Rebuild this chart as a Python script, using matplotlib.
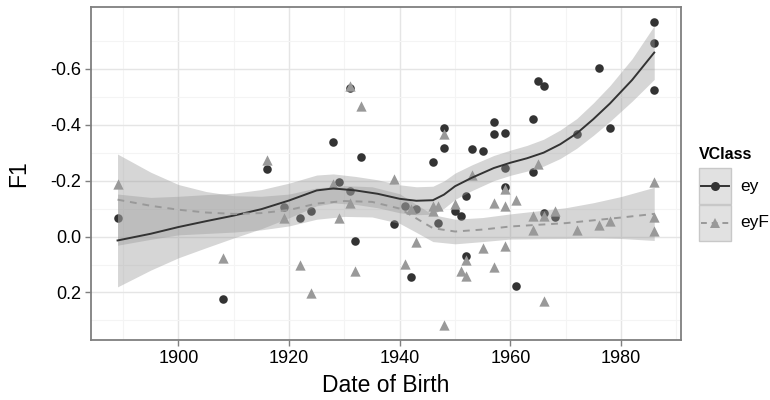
#!/usr/bin/env python3

import numpy as np
import matplotlib
matplotlib.use('Agg')
import matplotlib.pyplot as plt
from matplotlib.lines import Line2D
from matplotlib.patches import Rectangle

plt.rcParams['font.family'] = ['Liberation Sans', 'DejaVu Sans']

# observed points
ey_year = [1889, 1908, 1916, 1919, 1922, 1924, 1928, 1929, 1931, 1931, 1932, 1933,
           1939, 1941, 1942, 1943, 1946, 1947, 1948, 1948, 1950, 1951, 1952, 1952,
           1953, 1955, 1957, 1957, 1959, 1959, 1959, 1961, 1964, 1964, 1965, 1966,
           1966, 1968, 1972, 1976, 1978, 1986, 1986, 1986]
ey_f1 = [-0.067, 0.224, -0.240, -0.105, -0.066, -0.091, -0.339, -0.195, -0.530, -0.163, 0.016, -0.284,
         -0.045, -0.108, 0.145, -0.100, -0.267, -0.049, -0.389, -0.315, -0.090, -0.075, -0.145, 0.069,
         -0.312, -0.306, -0.408, -0.366, -0.371, -0.245, -0.177, 0.176, -0.420, -0.230, -0.557, -0.539,
         -0.085, -0.069, -0.365, -0.603, -0.389, -0.766, -0.694, -0.524]

eyf_year = [1889, 1908, 1916, 1919, 1922, 1924, 1928, 1929, 1931, 1931, 1932, 1933,
            1939, 1941, 1942, 1943, 1946, 1946, 1947, 1948, 1948, 1950, 1951, 1952,
            1952, 1953, 1955, 1957, 1957, 1959, 1959, 1959, 1961, 1964, 1964, 1965,
            1966, 1966, 1968, 1972, 1976, 1978, 1986, 1986, 1986]
eyf_f1 = [-0.189, 0.077, -0.273, -0.067, 0.100, 0.201, -0.187, -0.067, -0.539, -0.120, 0.122, -0.467,
          -0.207, 0.098, -0.100, 0.020, -0.111, -0.093, -0.108, -0.366, 0.316, -0.117, 0.122, 0.083,
          0.140, -0.219, 0.040, -0.120, 0.108, -0.170, -0.111, 0.035, -0.129, -0.075, -0.022, -0.259,
          -0.075, 0.230, -0.091, -0.022, -0.042, -0.055, -0.195, -0.069, -0.019]

# smoothed fits with half-width of the confidence band
ey_fit_year = [1889, 1895, 1900, 1905, 1910, 1915, 1920, 1925, 1928, 1932, 1936, 1940, 1943,
               1946, 1948, 1950, 1953, 1957, 1960, 1963, 1966, 1969, 1972, 1975, 1978, 1982, 1986]
ey_fit = [0.014, -0.010, -0.034, -0.055, -0.075, -0.098, -0.129, -0.165, -0.172, -0.165, -0.153,
          -0.135, -0.128, -0.130, -0.150, -0.180, -0.210, -0.245, -0.264, -0.280, -0.300, -0.330,
          -0.369, -0.420, -0.476, -0.560, -0.658]
ey_se = [0.166, 0.130, 0.110, 0.095, 0.080, 0.070, 0.062, 0.055, 0.052, 0.050, 0.050, 0.050, 0.050,
         0.050, 0.049, 0.047, 0.046, 0.045, 0.045, 0.046, 0.048, 0.051, 0.053, 0.058, 0.064, 0.076, 0.096]

eyf_fit_year = [1889, 1895, 1900, 1905, 1910, 1915, 1920, 1925, 1930, 1935, 1940, 1943, 1946,
                1950, 1955, 1960, 1965, 1970, 1975, 1980, 1986]
eyf_fit = [-0.132, -0.110, -0.096, -0.086, -0.081, -0.084, -0.095, -0.118, -0.127, -0.124, -0.100,
           -0.065, -0.030, -0.018, -0.025, -0.036, -0.042, -0.048, -0.058, -0.068, -0.081]
eyf_se = [0.163, 0.120, 0.090, 0.075, 0.065, 0.060, 0.057, 0.056, 0.055, 0.054, 0.053, 0.050, 0.048,
          0.044, 0.043, 0.045, 0.050, 0.055, 0.063, 0.075, 0.095]

dark = '#333333'
light = '#999999'

fig = plt.figure(figsize=(7.7, 4.0), dpi=100)
ax = fig.add_axes([0.1178, 0.1500, 0.8845 - 0.1178, 0.9818 - 0.1500])

# points first, then the bands on top, then the fitted lines
ax.scatter(ey_year, ey_f1, s=38, marker='o', color=dark, linewidths=0, zorder=2)
ax.scatter(eyf_year, eyf_f1, s=55, marker='^', color=light, linewidths=0, zorder=2)

for yr, fit, se in [(ey_fit_year, ey_fit, ey_se), (eyf_fit_year, eyf_fit, eyf_se)]:
    fit = np.array(fit)
    se = np.array(se)
    ax.fill_between(yr, fit - se, fit + se, color='#999999', alpha=0.4, linewidth=0, zorder=3)

ax.plot(ey_fit_year, ey_fit, color=dark, lw=1.4, zorder=4)
ax.plot(eyf_fit_year, eyf_fit, color=light, lw=1.4, dashes=(3.5, 3), zorder=4)

# axes, ggplot theme_bw look
ax.set_xlim(1884.15, 1990.85)
ax.set_ylim(0.370, -0.820)
ax.set_xticks([1900, 1920, 1940, 1960, 1980])
ax.set_xticks([1890, 1910, 1930, 1950, 1970, 1990], minor=True)
ax.set_yticks([-0.6, -0.4, -0.2, 0.0, 0.2])
ax.set_yticks([-0.7, -0.5, -0.3, -0.1, 0.1, 0.3], minor=True)
ax.set_yticklabels(['-0.6', '-0.4', '-0.2', '0.0', '0.2'])
ax.grid(which='major', color='#e5e5e5', lw=1.0, zorder=0)
ax.grid(which='minor', color='#f4f4f4', lw=0.8, zorder=0)
ax.set_axisbelow(True)
for sp in ax.spines.values():
    sp.set_color('#7f7f7f')
    sp.set_linewidth(1.3)
ax.tick_params(which='major', length=4, width=1, color='#7f7f7f', labelsize=13,
               labelcolor='black', pad=3)
ax.tick_params(which='minor', length=0)
ax.set_xlabel('Date of Birth', fontsize=16.5, labelpad=5)
ax.set_ylabel('F1', fontsize=16.5, labelpad=14)

# legend drawn by hand to match the ggplot guide
W, H = 770.0, 400.0
fig.text(699 / W, 1 - 155 / H, 'VClass', fontsize=11.5, fontweight='bold', va='center', ha='left')
keys = [('ey', dark, '-', 'o', 168.3), ('eyF', light, '--', '^', 205)]
for label, col, ls, mk, top in keys:
    fig.patches.append(Rectangle((699.3 / W, 1 - (top + 36) / H), 31.4 / W, 36 / H,
                                 transform=fig.transFigure, facecolor='#e1e1e1',
                                 edgecolor='#c8c8c8', lw=1.0))
    yc = 1 - (top + 18) / H
    fig.lines.append(Line2D([701 / W, 729 / W], [yc, yc], transform=fig.transFigure,
                            color=col, lw=1.4, dashes=(3, 2.5) if ls == '--' else (None, None)))
    fig.lines.append(Line2D([715 / W], [yc], transform=fig.transFigure, color=col, lw=0,
                            marker=mk, markersize=6.5 if mk == 'o' else 7.5, markeredgewidth=0))
    fig.text(740 / W, yc, label, fontsize=12.5, va='center', ha='left')

plt.savefig('out.png', dpi=100)
